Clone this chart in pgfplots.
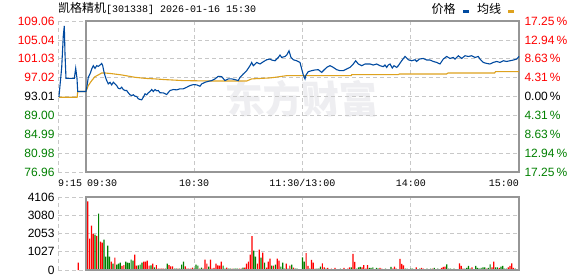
\documentclass[border=0pt]{standalone}
\usepackage{fontspec}
\setmainfont{Liberation Sans}
\setmonofont{Liberation Mono}
\newfontfamily\cjk{Noto Sans CJK SC}
\usepackage{pgfplots}
\pgfplotsset{compat=1.18}
\definecolor{upred}{RGB}{255,0,0}
\definecolor{dngreen}{RGB}{0,128,0}
\definecolor{pblue}{RGB}{0,74,160}
\definecolor{avgorg}{RGB}{222,162,30}
\definecolor{gridc}{RGB}{200,200,200}
\definecolor{framec}{RGB}{150,150,150}
\definecolor{wm}{RGB}{238,238,241}
\tikzset{gridl/.style={gridc, dash pattern=on 4bp off 3bp, line width=0.8bp}}
\newcommand{\tl}{\fontsize{12bp}{14bp}\selectfont}
\newcommand{\ml}{\ttfamily\fontsize{10bp}{12bp}\selectfont}
\begin{document}
\begin{tikzpicture}
\path[use as bounding box, fill=white] (0,0) rectangle (578bp,276bp);
\node[anchor=base west, inner sep=0pt] at (58bp,263bp) {{\cjk\tl 凯格精机}{\ml[301338] 2026-01-16 15:30}};
% ---------------- main price panel
\begin{axis}[
  scale only axis, width=461bp, height=151bp, at={(58bp,104bp)}, anchor=south west,
  xmin=-15.52, xmax=240, ymin=76.96, ymax=109.06, clip=false,
  axis line style={draw=none}, tick style={draw=none}, xtick=\empty,
  ytick={76.96,80.98,84.99,89.00,93.01,97.02,101.03,105.04,109.06},
  yticklabels={\textcolor{dngreen}{76.96},\textcolor{dngreen}{80.98},\textcolor{dngreen}{84.99},\textcolor{dngreen}{89.00},93.01,\textcolor{upred}{97.02},\textcolor{upred}{101.03},\textcolor{upred}{105.04},\textcolor{upred}{109.06}},
  yticklabel style={font=\tl},
  legend plot pos=right,
  legend image code/.code={\fill (0bp,-3.5bp) rectangle (5bp,-1.5bp);},
  legend style={at={(0.995,1.08)}, anchor=east, draw=none, fill=none, legend columns=-1,
    font={\cjk\tl},
    /tikz/every odd column/.append style={column sep=5bp},
    /tikz/every even column/.append style={column sep=7bp}},
]
\node[font={\cjk\bfseries\fontsize{38bp}{40bp}\selectfont}, text=wm, inner sep=0pt, xslant=-0.1] at (axis cs:120,92.6) {东方财富};
\draw[gridl] (axis cs:-15.52,109.06) -- (axis cs:0,109.06);
\draw[gridl] (axis cs:-15.52,76.96) -- (axis cs:0,76.96);
\draw[gridl] (axis cs:-15.52,105.04) -- (axis cs:240,105.04);
\draw[gridl] (axis cs:-15.52,101.03) -- (axis cs:240,101.03);
\draw[gridl] (axis cs:-15.52,97.02) -- (axis cs:240,97.02);
\draw[gridl] (axis cs:-15.52,93.01) -- (axis cs:240,93.01);
\draw[gridl] (axis cs:-15.52,89.00) -- (axis cs:240,89.00);
\draw[gridl] (axis cs:-15.52,84.99) -- (axis cs:240,84.99);
\draw[gridl] (axis cs:-15.52,80.98) -- (axis cs:240,80.98);
\draw[gridl] (axis cs:-15.52,76.96) -- (axis cs:-15.52,109.06);
\draw[gridl] (axis cs:60,76.96) -- (axis cs:60,109.06);
\draw[gridl] (axis cs:120,76.96) -- (axis cs:120,109.06);
\draw[gridl] (axis cs:180,76.96) -- (axis cs:180,109.06);
\draw[framec, line width=1.2bp] (axis cs:0,76.96) rectangle (axis cs:240,109.06);
\addlegendimage{pblue, fill=pblue}
\addlegendentry{价格}
\addlegendimage{avgorg, fill=avgorg}
\addlegendentry{均线}
\addplot[avgorg, line width=1.1bp, forget plot] coordinates {
(-15,92.86) (-4.9,92.86) (-4.6,94.07) (0,94.07) (1.27,95.33) (3.16,96.39) (4.99,97.23) (6.82,97.59)
(8.70,98.01) (10.53,98.01) (14.24,97.87) (19.79,97.59) (27.16,97.09) (32.70,96.87) (38.24,96.75)
(43.79,96.60) (53.93,96.39) (70,96.30) (89.07,96.30) (91.84,96.75) (101.98,96.96) (104.76,97.09)
(111.24,97.44) (147,97.44) (147.3,97.66) (173.1,97.66) (173.7,97.80) (199.9,97.80) (200.7,98.01)
(226.5,98.01) (227,98.29) (240,98.29)};
\addplot[pblue, line width=1.1bp, forget plot] coordinates {
(-15,92.90) (-13.47,99.20) (-12.58,105.89) (-12.03,108.00) (-11.64,102.03) (-11.09,96.87) (-6.48,96.87)
(-5.71,99.00) (-4.99,96.87) (-4.60,94.07) (0,94.07) (0.72,95.69) (1.27,97.09) (2.22,97.80) (3.16,98.86)
(4.05,99.56) (4.99,98.99) (5.93,99.56) (6.82,99.41) (7.76,99.70) (8.70,100.04) (9.26,99.56) (9.81,98.50)
(10.53,97.45) (11.47,96.39) (12.36,95.69) (13.30,96.03) (14.24,95.48) (15.13,96.03) (16.07,95.69)
(17.02,95.33) (17.90,94.76) (18.84,94.64) (19.79,94.97) (20.67,94.49) (21.62,94.28) (22.56,94.28)
(23.45,93.79) (24.39,93.37) (25.33,93.22) (26.22,93.37) (27.16,93.07) (28.10,93.01) (28.99,92.52)
(29.93,92.38) (30.87,92.31) (31.76,92.86) (32.70,93.58) (33.64,93.37) (34.53,93.79) (35.47,94.07)
(36.42,94.49) (37.30,94.07) (38.24,94.49) (39.19,94.21) (40.07,94.28) (41.02,93.80) (42.84,93.79)
(44.73,93.43) (46.56,94.28) (48.39,94.49) (50.27,94.42) (52.10,94.64) (53.93,94.64) (55.81,94.97)
(57.64,95.33) (59.47,95.54) (61.36,95.48) (63.19,95.19) (64.13,95.69) (65.96,96.03) (67.79,96.24)
(69.67,96.39) (71.50,96.75) (73.33,97.30) (75.21,97.23) (77.04,96.39) (78.87,96.75) (80.76,96.75)
(82.59,96.60) (84.41,96.39) (85.36,97.09) (87.19,97.80) (89.07,98.50) (90.90,99.56) (91.84,100.25)
(92.73,99.56) (94.61,100.25) (96.44,99.92) (98.27,100.40) (100.16,100.82) (101.98,100.97) (102.93,100.76)
(104.76,100.61) (106.59,101.31) (107.53,101.82) (108.47,101.31) (110.30,101.52) (111.24,101.82)
(112.52,102.72) (113.62,101.31) (114.90,100.82) (116.78,100.61) (118.61,100.25) (119.56,98.86)
(120.44,97.59) (121.38,96.75) (121.77,97.44) (122.33,97.80) (123.21,98.29) (125.10,98.50) (126.93,98.65)
(128.76,98.71) (130.64,98.14) (131.53,98.50) (133.41,99.20) (135.24,99.56) (137.07,99.20) (138.95,98.71)
(140.78,98.50) (142.61,98.50) (144.50,98.86) (146.33,99.20) (148.15,99.92) (149.48,100.61) (150.93,99.92)
(152.81,99.56) (154.64,99.92) (157.41,99.92) (159.24,99.70) (161.12,99.92) (162.95,99.56) (164.78,99.35)
(165.72,99.70) (166.66,99.20) (167.55,99.70) (168.50,99.92) (169.77,99.07) (170.71,99.56) (172.21,99.20)
(173.10,99.56) (174.98,100.61) (176.81,101.52) (178.64,100.82) (180.52,100.61) (182.35,100.82)
(183.29,100.46) (184.74,100.97) (186.95,101.10) (188.83,100.76) (190.67,100.76) (192.50,100.46)
(194.38,100.25) (196.21,99.92) (198.04,100.97) (199.92,101.52) (201.75,101.10) (203.58,101.31)
(204.52,100.97) (206.35,101.67) (208.24,101.10) (210.07,101.67) (211.90,101.52) (213.78,101.67)
(215.61,101.31) (217.44,101.52) (218.38,100.97) (220.21,100.25) (222.09,100.04) (223.92,99.92)
(225.75,100.25) (227.64,100.46) (229.46,100.25) (231.29,100.61) (233.18,100.46) (235.01,100.61)
(236.84,100.76) (238.72,100.97) (240,101.52)};
\node[anchor=base west, inner sep=0pt, yshift=-15bp, font=\ml] at (axis cs:-15.52,76.96) {9:15};
\node[anchor=base west, inner sep=0pt, yshift=-15bp, font=\ml] at (axis cs:0.5,76.96) {09:30};
\node[anchor=base, inner sep=0pt, yshift=-15bp, font=\ml] at (axis cs:60,76.96) {10:30};
\node[anchor=base, inner sep=0pt, yshift=-15bp, font=\ml] at (axis cs:120,76.96) {11:30/13:00};
\node[anchor=base, inner sep=0pt, yshift=-15bp, font=\ml] at (axis cs:180,76.96) {14:00};
\node[anchor=base east, inner sep=0pt, yshift=-15bp, font=\ml] at (axis cs:240,76.96) {15:00};
\end{axis}
% ---------------- right percentage labels
\begin{axis}[
  scale only axis, width=461bp, height=151bp, at={(58bp,104bp)}, anchor=south west,
  xmin=-15.52, xmax=240, ymin=76.96, ymax=109.06,
  axis line style={draw=none}, tick style={draw=none}, xtick=\empty,
  ytick pos=right, yticklabel pos=right,
  ytick={76.96,80.98,84.99,89.00,93.01,97.02,101.03,105.04,109.06},
  yticklabels={\textcolor{dngreen}{17.25\,\%},\textcolor{dngreen}{12.94\,\%},\textcolor{dngreen}{8.63\,\%},\textcolor{dngreen}{4.31\,\%},0.00\,\%,\textcolor{upred}{4.31\,\%},\textcolor{upred}{8.63\,\%},\textcolor{upred}{12.94\,\%},\textcolor{upred}{17.25\,\%}},
  yticklabel style={font=\tl, xshift=2bp},
]
\addplot[draw=none] coordinates {(0,93.01)};
\end{axis}
% ---------------- volume panel
\begin{axis}[
  scale only axis, width=461bp, height=73bp, at={(58bp,6bp)}, anchor=south west,
  xmin=-15.52, xmax=240, ymin=0, ymax=4106, clip=false,
  axis line style={draw=none}, tick style={draw=none}, xtick=\empty,
  ytick={0,1027,2053,3080,4106}, yticklabels={0,1027,2053,3080,4106},
  yticklabel style={font=\tl},
]
\draw[gridl] (axis cs:-15.52,4106) -- (axis cs:0,4106);
\draw[gridl] (axis cs:-15.52,0) -- (axis cs:0,0);
\draw[gridl] (axis cs:-15.52,3080) -- (axis cs:240,3080);
\draw[gridl] (axis cs:-15.52,2053) -- (axis cs:240,2053);
\draw[gridl] (axis cs:-15.52,1027) -- (axis cs:240,1027);
\draw[gridl] (axis cs:-15.52,0) -- (axis cs:-15.52,4106);
\draw[gridl] (axis cs:60,0) -- (axis cs:60,4106);
\draw[gridl] (axis cs:120,0) -- (axis cs:120,4106);
\draw[gridl] (axis cs:180,0) -- (axis cs:180,4106);
\addplot[ybar, bar width=1.2bp, bar shift=0pt, fill=upred, draw=none] coordinates {
(-4.27,411) (1,3863) (2,1763) (3,2494) (4,2025) (6,1913) (8,1594) (9,1538) (14,469) (16,694) (20,225)
(21,281) (27,863) (28,244) (32,469) (33,469) (34,525) (35,244) (37,356) (39,281) (40,75) (41,75) (42,75)
(43,75) (46,281) (47,206) (48,206) (51,75) (55,206) (56,75) (57,75) (58,75) (59,131) (63,75) (65,75)
(66,581) (67,356) (69,581) (70,75) (71,113) (72,356) (73,263) (74,244) (75,469) (78,131) (81,75) (85,75)
(86,75) (88,131) (89,356) (90,469) (91,863) (92,1900) (95,356) (96,1144) (98,975) (100,131) (101,469)
(102,638) (104,244) (106,638) (107,525) (111,356) (113,244) (115,131)
(118,50) (122,956) (123,225) (125,563) (126,413) (127,75) (131,375) (132,150) (134,113) (136,75) (138,113)
(140,50) (142,50) (143,113) (145,75) (146,150) (148,900) (149,450) (153,150) (154,281) (155,75) (156,281)
(160,50) (163,113) (164,75) (167,50) (170,75) (171,188) (172,75) (174,619) (175,338) (176,263) (179,50)
(182,50) (183,150) (186,113) (187,75) (190,50) (192,75) (194,50) (196,50) (197,113) (198,169) (199,188)
(203,50) (205,50) (207,375) (208,225) (209,75) (214,150) (215,50) (222,75) (225,150) (226,469) (229,113)
(234,150) (235,225) (236,375) (237,113) (240,225)};
\addplot[ybar, bar width=1.2bp, bar shift=0pt, fill=dngreen, draw=none] coordinates {
(5,1988) (7,3169) (10,1706) (11,750) (12,1369) (13,750) (15,356) (17,300) (18,356) (19,413) (22,469)
(23,413) (24,394) (25,581) (26,525) (29,263) (30,300) (31,413) (36,263) (38,150) (44,75) (45,356) (49,75)
(50,75) (52,75) (53,300) (54,469) (60,75) (61,300) (62,244) (64,131) (68,188) (76,244) (77,75) (79,75)
(80,75) (82,75) (83,75) (84,75) (87,131) (93,1088) (94,750) (97,694) (99,413) (103,244) (105,300)
(108,188) (109,413) (110,75) (112,75) (114,300) (116,75)
(117,75) (119,50) (120,713) (121,469) (124,75) (128,75) (129,75) (130,188) (133,75) (135,50) (137,50)
(139,50) (141,75) (144,50) (147,150) (150,75) (151,150) (152,169) (157,113) (158,113) (159,150) (161,113)
(162,75) (165,50) (166,75) (168,50) (169,169) (173,50) (177,75) (178,75) (180,75) (181,75) (184,50)
(185,75) (188,50) (189,75) (191,75) (193,113) (195,75) (200,319) (201,75) (202,75) (204,75) (206,50)
(210,75) (211,113) (212,225) (213,75) (216,225) (217,113) (218,75) (219,113) (220,150) (221,150)
(223,113) (224,319) (227,150) (228,150) (230,188) (231,225) (232,75) (233,75) (238,75) (239,50)};
\draw[framec, line width=1.2bp] (axis cs:0,0) rectangle (axis cs:240,4106);
\end{axis}
\end{tikzpicture}
\end{document}
